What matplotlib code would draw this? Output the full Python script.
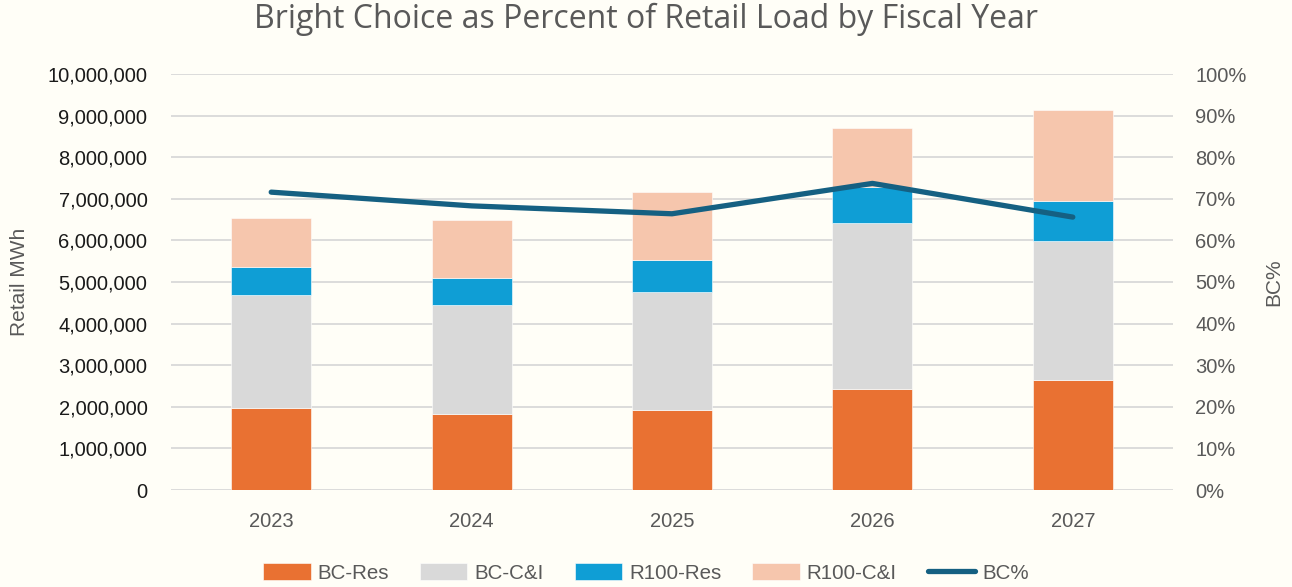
import matplotlib
matplotlib.use("Agg")
import matplotlib.pyplot as plt
from matplotlib.ticker import FuncFormatter, MultipleLocator
import numpy as np

years = ["2023", "2024", "2025", "2026", "2027"]
bc_res = [1970000, 1820000, 1920000, 2430000, 2650000]
bc_ci = [2720000, 2620000, 2830000, 3990000, 3340000]
r100_res = [660000, 650000, 790000, 870000, 965000]
r100_ci = [1200000, 1400000, 1620000, 1420000, 2190000]
bc_pct = [0.716, 0.683, 0.664, 0.737, 0.656]

series = [("BC-Res", bc_res, "#E97132"),
          ("BC-C&I", bc_ci, "#D9D9D9"),
          ("R100-Res", r100_res, "#0F9ED5"),
          ("R100-C&I", r100_ci, "#F6C6AD")]

bg = "#FFFEF7"
grey_text = "#595959"
plt.rcParams['font.family'] = ['Liberation Sans', 'DejaVu Sans']

fig = plt.figure(figsize=(12.92, 5.87), dpi=100, facecolor=bg)
ax = fig.add_axes([171/1292, 1-490/587, (1173-171)/1292, (490-74)/587])
ax.set_facecolor(bg)

x = np.arange(len(years))
bottom = np.zeros(len(years))
handles = []
for name, vals, col in series:
    b = ax.bar(x, vals, 0.4, bottom=bottom, color=col, edgecolor="#FFFFFF", linewidth=0.4,
               label=name, zorder=2)
    handles.append(b)
    bottom += np.array(vals)

ax.set_xlim(-0.5, len(years) - 0.5)
ax.set_ylim(0, 10000000)
ax.yaxis.set_major_locator(MultipleLocator(1000000))
ax.yaxis.set_major_formatter(FuncFormatter(lambda v, p: f"{int(v):,}"))
ax.set_xticks(x)
ax.set_xticklabels(years)
ax.grid(axis="y", color="#D9D9D9", linewidth=1.3, zorder=0)
ax.set_axisbelow(True)
for s in ax.spines.values():
    s.set_visible(False)
ax.tick_params(axis="y", length=0, pad=17, labelsize=14.5, labelcolor="#1a1a1a")
ax.tick_params(axis="x", length=0, pad=16, labelsize=14.5, labelcolor=grey_text)
ax.set_ylabel("Retail MWh", fontsize=15, color=grey_text, labelpad=13)

ax2 = ax.twinx()
ax2.set_ylim(0, 1.0)
ax2.yaxis.set_major_locator(MultipleLocator(0.1))
ax2.yaxis.set_major_formatter(FuncFormatter(lambda v, p: f"{int(round(v*100))}%"))
for s in ax2.spines.values():
    s.set_visible(False)
ax2.tick_params(axis="y", length=0, pad=16, labelsize=14.5, labelcolor=grey_text)
line, = ax2.plot(x, bc_pct, color="#156082", linewidth=3.8, solid_capstyle="round",
                 solid_joinstyle="round", label="BC%", zorder=3)
ax2.set_ylabel("BC%", fontsize=15, color=grey_text, labelpad=13)

fig.text(0.5, 1-19/587, "Bright Choice as Percent of Retail Load by Fiscal Year",
         ha="center", va="center", fontsize=23, color=grey_text, family=['Open Sans', 'DejaVu Sans'])

leg = fig.legend(handles + [line], ["BC-Res", "BC-C&I", "R100-Res", "R100-C&I", "BC%"],
                 loc="center", bbox_to_anchor=(0.5, 1-573/587), ncol=5, frameon=False,
                 fontsize=14.8, handlelength=2.3, handleheight=0.9, columnspacing=1.5,
                 handletextpad=0.35)
for t in leg.get_texts():
    t.set_color(grey_text)

fig.savefig("out.png", dpi=100, facecolor=bg)
